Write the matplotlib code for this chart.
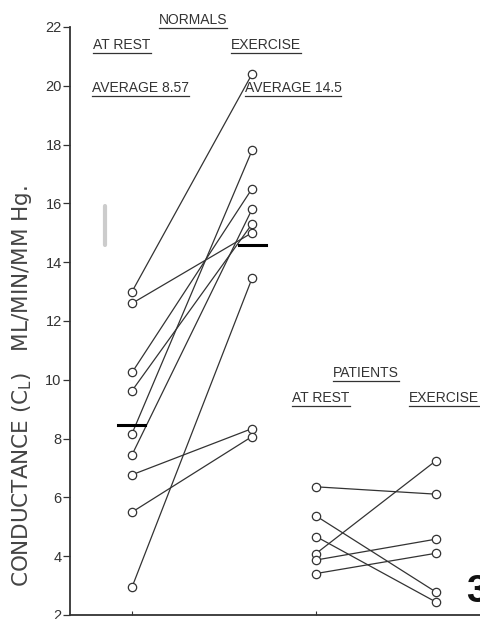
import matplotlib.pyplot as plt

# normals: rest -> exercise (paired)
norm_rest = [13.0, 12.6, 10.25, 9.63, 8.17, 7.45, 6.77, 5.5, 2.95]
norm_ex = [20.4, 15.0, 16.5, 15.3, 17.8, 15.8, 8.34, 8.07, 13.45]
# patients: rest -> exercise (paired)
pat_rest = [6.36, 5.37, 4.67, 4.09, 3.87, 3.41]
pat_ex = [6.11, 2.78, 2.44, 7.25, 4.58, 4.1]
# averages drawn as bars
avg_rest = 8.45
avg_ex = 14.57
xpos = [1.0, 2.0, 2.533, 3.533]
yticks = [2, 4, 6, 8, 10, 12, 14, 16, 18, 20, 22]

plt.rcParams['font.family'] = ['Liberation Sans', 'DejaVu Sans']
ink = '#333333'

fig = plt.figure(figsize=(4.81, 6.19), dpi=100)
ax = fig.add_axes([70/481, 4/619, 411/481, 588/619])
ax.set_xlim(0.483, 3.908)
ax.set_ylim(2, 22)

for a, b in zip(norm_rest, norm_ex):
    ax.plot([xpos[0], xpos[1]], [a, b], color=ink, lw=0.9, zorder=2)
for a, b in zip(pat_rest, pat_ex):
    ax.plot([xpos[2], xpos[3]], [a, b], color=ink, lw=0.9, zorder=2)

ax.plot([xpos[0]]*len(norm_rest), norm_rest, 'o', ms=6, mfc='white', mec=ink, mew=0.9, zorder=3)
ax.plot([xpos[1]]*len(norm_ex), norm_ex, 'o', ms=6, mfc='white', mec=ink, mew=0.9, zorder=3)
ax.plot([xpos[2]]*len(pat_rest), pat_rest, 'o', ms=6, mfc='white', mec=ink, mew=0.9, zorder=3)
ax.plot([xpos[3]]*len(pat_ex), pat_ex, 'o', ms=6, mfc='white', mec=ink, mew=0.9, zorder=3)

ax.plot([xpos[0]-0.12, xpos[0]+0.11], [avg_rest, avg_rest], color='black', lw=2.2, zorder=4)
ax.plot([xpos[1]-0.11, xpos[1]+0.12], [avg_ex, avg_ex], color='black', lw=2.2, zorder=4)

ax.spines['top'].set_visible(False)
ax.spines['right'].set_visible(False)
ax.spines['left'].set_linewidth(1.3)
ax.spines['bottom'].set_linewidth(1.3)
ax.spines['left'].set_color(ink)
ax.spines['bottom'].set_color(ink)
ax.set_yticks(yticks)
ax.set_yticklabels([str(t) for t in yticks], fontsize=10.5, color=ink)
ax.tick_params(axis='y', direction='out', length=5, width=0.9, pad=1, colors=ink)
ax.set_xticks([xpos[0], xpos[2]])
ax.set_xticklabels([])
ax.tick_params(axis='x', direction='in', length=3, width=0.8, colors=ink)

fig.text(22/481, 1-386/619, 'CONDUCTANCE (C$_\\mathregular{L}$)   ML/MIN/MM Hg.', rotation=90,
         ha='center', va='center', fontsize=15.5, color='#444444', family='DejaVu Sans')

labels = [
    ('NORMALS', 193, 20),
    ('AT REST', 122, 45),
    ('EXERCISE', 266, 45),
    ('AVERAGE 8.57', 140, 88),
    ('AVERAGE 14.5', 293, 88),
    ('PATIENTS', 366, 373),
    ('AT REST', 321, 398),
    ('EXERCISE', 444, 398),
]
texts = []
for s, px, py in labels:
    t = fig.text(px/481, 1-py/619, s, ha='center', va='center', fontsize=10, color=ink)
    texts.append(t)

fig.text(466/481, 1-592/619, '3', ha='left', va='center', fontsize=28, fontweight='bold', color='#111111')

# faint smudge
ax.plot([0.775, 0.775], [14.6, 15.9], color='#cccccc', lw=3, zorder=1, solid_capstyle='round')

fig.canvas.draw()
r = fig.canvas.get_renderer()
for t in texts:
    bb = t.get_window_extent(renderer=r)
    y0 = (bb.y0 - 1) / fig.bbox.height
    fig.add_artist(plt.Line2D([bb.x0/fig.bbox.width, bb.x1/fig.bbox.width], [y0, y0],
                              transform=fig.transFigure, color=ink, lw=0.9))

fig.savefig('out.png', dpi=100, facecolor='white')
